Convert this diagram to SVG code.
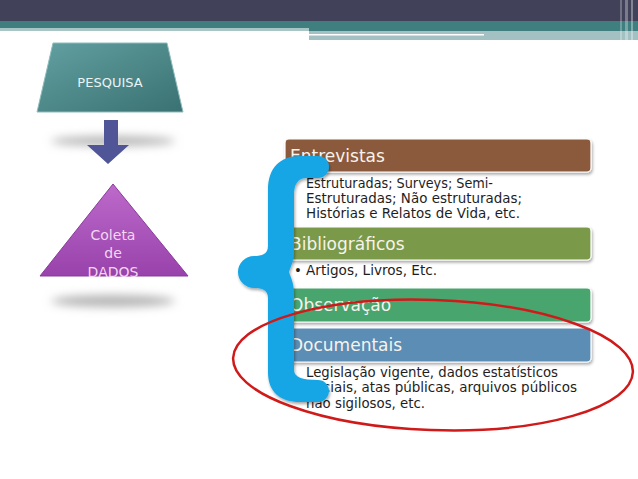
<svg xmlns="http://www.w3.org/2000/svg" width="638" height="479" viewBox="0 0 638 479">
<defs>
<style>
.hdr{font-family:"DejaVu Sans","Liberation Sans",sans-serif;font-size:17px;fill:#f7f3ec}
.body{font-family:"DejaVu Sans","Liberation Sans",sans-serif;font-size:13.3px;fill:#1e1e1e}
.tri{font-family:"DejaVu Sans","Liberation Sans",sans-serif;font-size:14px;fill:#f4d6f4;text-anchor:middle}
.box{stroke:#ffffff;stroke-width:1.2}
</style>
<linearGradient id="gTeal" x1="0" y1="0" x2="1" y2="1">
<stop offset="0" stop-color="#62a0a1"/><stop offset="1" stop-color="#3a7172"/>
</linearGradient>
<linearGradient id="gPurp" x1="0" y1="0" x2="0" y2="1">
<stop offset="0" stop-color="#bd6acb"/><stop offset="1" stop-color="#9842ab"/>
</linearGradient>
<filter id="blur" x="-50%" y="-100%" width="200%" height="300%"><feGaussianBlur stdDeviation="5"/></filter>
<filter id="sh" x="-10%" y="-10%" width="130%" height="140%"><feDropShadow dx="1" dy="2" stdDeviation="1.5" flood-color="#000" flood-opacity="0.35"/></filter>
</defs>
<rect width="638" height="479" fill="#ffffff"/>
<g id="banner">
<rect x="0" y="0" width="638" height="21" fill="#41425a"/>
<rect x="0" y="21" width="638" height="10" fill="#3f7f80"/>
<rect x="0" y="28" width="309" height="3" fill="#a9c6c6"/>
<rect x="309" y="31" width="329" height="9" fill="#a3c1c2"/>
<rect x="309" y="34" width="175" height="1.5" fill="#ffffff"/>
<rect x="620" y="0" width="2" height="40" fill="#ffffff" opacity="0.25"/>
<rect x="625" y="0" width="3" height="40" fill="#ffffff" opacity="0.3"/>
<rect x="631" y="0" width="2" height="40" fill="#ffffff" opacity="0.35"/>
</g>
<g id="pesquisa">
<polygon points="53,43 167,43 183,112 37,112" fill="url(#gTeal)" stroke="#8fbcbc" stroke-width="1"/>
<text x="110" y="87" font-family="DejaVu Sans, Liberation Sans, sans-serif" font-size="13" fill="#eaf4f4" text-anchor="middle">PESQUISA</text>
</g>
<g id="connectors">
<ellipse cx="113" cy="141" rx="62" ry="5" fill="#b4b4b4" filter="url(#blur)"/>
<polygon points="104,120 118,120 118,145 129,145 108,164 87,145 104,145" fill="#4f5596"/>
</g>
<g id="coleta">
<ellipse cx="113" cy="301" rx="62" ry="6" fill="#b4b4b4" filter="url(#blur)"/>
<polygon points="113,184 188,276 40,276" fill="url(#gPurp)" stroke="#8a3a9c" stroke-width="1"/>
<text class="tri" x="113" y="240">Coleta</text>
<text class="tri" x="113" y="258">de</text>
<text class="tri" x="113" y="277">DADOS</text>
</g>
<g id="entrevistas">
<rect class="box" x="285" y="139" width="306" height="33" rx="4" fill="#8b5a3c" filter="url(#sh)"/>
<text class="hdr" x="290" y="162">Entrevistas</text>
<text class="body" x="306" y="188" textLength="187" lengthAdjust="spacingAndGlyphs">Estruturadas; Surveys; Semi-</text>
<text class="body" x="306" y="203" textLength="216" lengthAdjust="spacingAndGlyphs">Estruturadas; Não estruturadas;</text>
<text class="body" x="306" y="218" textLength="214" lengthAdjust="spacingAndGlyphs">Histórias e Relatos de Vida, etc.</text>
</g>
<g id="bibliograficos">
<rect class="box" x="285" y="227" width="306" height="33" rx="4" fill="#7a9a48" filter="url(#sh)"/>
<text class="hdr" x="290" y="250">Bibliográficos</text>
<text class="body" x="294" y="275">•</text>
<text class="body" x="306" y="275" textLength="131" lengthAdjust="spacingAndGlyphs">Artigos, Livros, Etc.</text>
</g>
<g id="observacao">
<rect class="box" x="285" y="288" width="306" height="34" rx="4" fill="#4aa56e" filter="url(#sh)"/>
<text class="hdr" x="290" y="311">Observação</text>
</g>
<g id="documentais">
<rect class="box" x="285" y="328" width="306" height="34" rx="4" fill="#5b8db5" filter="url(#sh)"/>
<text class="hdr" x="290" y="351">Documentais</text>
<text class="body" x="306" y="377" textLength="252" lengthAdjust="spacingAndGlyphs">Legislação vigente, dados estatísticos</text>
<text class="body" x="306" y="392" textLength="271" lengthAdjust="spacingAndGlyphs">oficiais, atas públicas, arquivos públicos</text>
<text class="body" x="306" y="408" textLength="119" lengthAdjust="spacingAndGlyphs">não sigilosos, etc.</text>
</g>
<g id="brace">
<path d="M318 156 A11 11 0 0 1 318 178 L307 178 C298 178 294 184 294 195 L294 250 C294 262 290 268 289 272 C290 276 294 282 294 294 L294 370 C294 377 302 380 318 380 A11 11 0 0 1 318 402 L300 402 C280 402 268 392 268 372 L268 298 C268 290 262 288 254 288 A16 16 0 0 1 254 256 C262 256 268 254 268 246 L268 190 C268 168 280 156 300 156 Z" fill="#19a6e6" filter="url(#sh)"/>
</g>
<g id="highlight">
<ellipse cx="433" cy="365" rx="200" ry="65" transform="rotate(2 433 365)" fill="none" stroke="#d01a1a" stroke-width="2.5"/>
</g>
</svg>
